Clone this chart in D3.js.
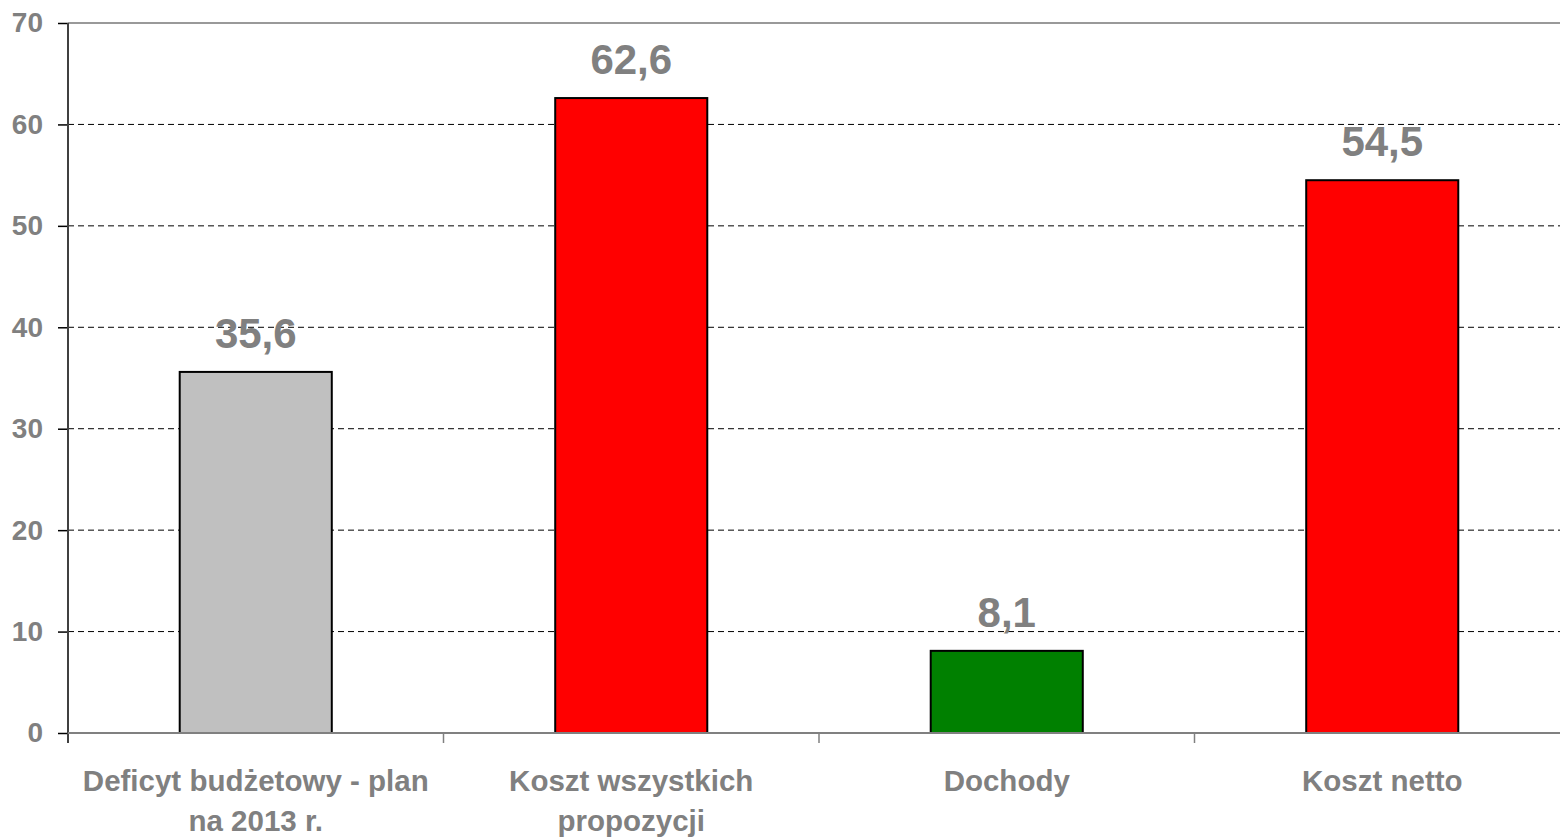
<!DOCTYPE html>
<html>
<head>
<meta charset="utf-8">
<script src="https://cdn.jsdelivr.net/npm/d3@7"></script>
<style>
  body { margin: 0; background: #fff; }
  svg { display: block; font-family: Arial, "Liberation Sans", sans-serif; }
</style>
</head>
<body>
<div id="chart"></div>
<script>
const categories = [["Deficyt budżetowy - plan", "na 2013 r."], ["Koszt wszystkich", "propozycji"], ["Dochody"], ["Koszt netto"]];
const values = [35.6, 62.6, 8.1, 54.5];
const labels = ["35,6", "62,6", "8,1", "54,5"];
const colors = ["#c0c0c0", "#ff0000", "#008000", "#ff0000"];
const yTicks = [0, 10, 20, 30, 40, 50, 60, 70];

const W = 1560, H = 838;
const margin = { top: 23, right: -10, bottom: 105, left: 68 };
const width = W - margin.left - margin.right,
    height = H - margin.top - margin.bottom;

let svg = d3.select('#chart').append('svg')
    .attr('width', W).attr('height', H);

let main = svg.append('g')
    .attr('transform', 'translate(' + margin.left + ',' + margin.top + ')');

let x = d3.scaleBand().domain(d3.range(values.length)).range([0, width]).padding(0);
let y = d3.scaleLinear().domain([0, 70]).range([height, 0]);
let barW = x.bandwidth() * 0.405;

// gridlines
main.append('g').selectAll('line').data(yTicks.filter(d => d > 0 && d < 70)).enter().append('line')
    .attr('x1', 0).attr('x2', W)
    .attr('y1', d => y(d)).attr('y2', d => y(d))
    .attr('stroke', '#000').attr('stroke-width', 1).attr('stroke-dasharray', '6,4');

// top border
main.append('line')
    .attr('x1', 0).attr('x2', W).attr('y1', y(70)).attr('y2', y(70))
    .attr('stroke', '#999').attr('stroke-width', 2);

// bars
main.append('g').selectAll('rect').data(values).enter().append('rect')
    .attr('x', (d, i) => x(i) + (x.bandwidth() - barW) / 2)
    .attr('y', d => y(d))
    .attr('width', barW)
    .attr('height', d => y(0) - y(d))
    .attr('fill', (d, i) => colors[i])
    .attr('stroke', '#000').attr('stroke-width', 2);

// value labels
main.append('g').selectAll('text').data(values).enter().append('text')
    .attr('x', (d, i) => x(i) + x.bandwidth() / 2)
    .attr('y', d => y(d) - 24)
    .attr('text-anchor', 'middle')
    .attr('font-size', 42).attr('font-weight', 'bold').attr('fill', '#808080')
    .text((d, i) => labels[i]);

// y axis
let yAxis = d3.axisLeft(y).tickValues(yTicks).tickSize(10).tickPadding(15);
let ya = main.append('g').call(yAxis);
ya.select('.domain').remove();
ya.selectAll('.tick line').attr('stroke', '#000').attr('stroke-width', 1.5);
ya.selectAll('.tick text')
    .attr('font-size', 28).attr('font-weight', 'bold').attr('fill', '#808080')
    .attr('font-family', 'Arial, "Liberation Sans", sans-serif');
main.append('line')
    .attr('x1', 0).attr('x2', 0).attr('y1', 0).attr('y2', height + 10)
    .attr('stroke', '#404040').attr('stroke-width', 2);

// x axis
main.append('line')
    .attr('x1', 0).attr('x2', W).attr('y1', height).attr('y2', height)
    .attr('stroke', '#808080').attr('stroke-width', 2);
main.append('g').selectAll('line').data(d3.range(1, values.length)).enter().append('line')
    .attr('x1', d => x(d)).attr('x2', d => x(d))
    .attr('y1', height).attr('y2', height + 10)
    .attr('stroke', '#808080').attr('stroke-width', 1.5);

// category labels
let cat = main.append('g').selectAll('text').data(categories).enter().append('text')
    .attr('x', (d, i) => x(i) + x.bandwidth() / 2)
    .attr('y', height + 58)
    .attr('text-anchor', 'middle')
    .attr('font-size', 29.5).attr('font-weight', 'bold').attr('fill', '#808080');
cat.selectAll('tspan').data(d => d).enter().append('tspan')
    .attr('x', function () { return d3.select(this.parentNode).attr('x'); })
    .attr('dy', (d, i) => i === 0 ? 0 : 40)
    .text(d => d);
</script>
</body>
</html>
